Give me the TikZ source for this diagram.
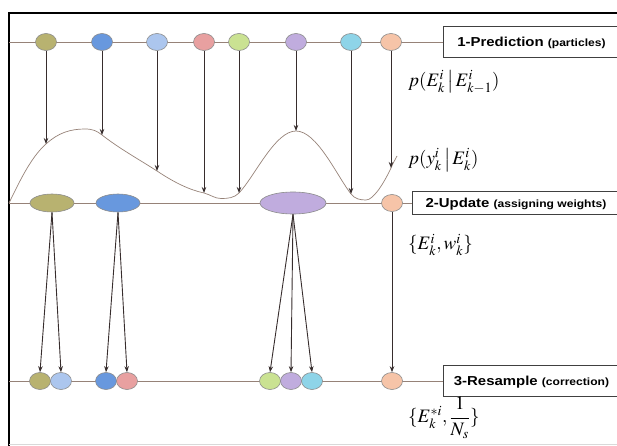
\documentclass[tikz,border=0pt]{standalone}
\usepackage{amsmath}
\usepackage{mathptmx}
\usepackage{fontspec}
\newfontfamily\stagefont[FakeStretch=1.15]{Liberation Sans}
\usetikzlibrary{arrows.meta, positioning, shapes.geometric}
\definecolor{pOlive}{RGB}{184,178,112}
\definecolor{pBlue}{RGB}{104,152,222}
\definecolor{pLightblue}{RGB}{172,198,238}
\definecolor{pPink}{RGB}{232,160,160}
\definecolor{pGreen}{RGB}{202,226,146}
\definecolor{pPurple}{RGB}{192,172,222}
\definecolor{pCyan}{RGB}{142,212,232}
\definecolor{pPeach}{RGB}{246,196,168}
\definecolor{trackcol}{RGB}{150,130,120}
\definecolor{arrowcol}{RGB}{55,45,45}

\begin{document}
\begin{tikzpicture}[x=1pt, y=-1pt,
  particle/.style={ellipse, draw=black!45, line width=0.6pt, inner sep=0pt,
                   minimum width=21pt, minimum height=17pt},
  weighted/.style={particle, minimum width=44pt, minimum height=18pt},
  stagebox/.style={rectangle, draw=black!75, line width=0.9pt, fill=white,
                   anchor=west, text depth=0pt, inner xsep=5pt, align=left},
  track/.style={draw=trackcol, line width=0.7pt},
  arrow/.style={-{Stealth[length=6pt, width=4.5pt]}, line width=0.9pt, draw=arrowcol},
  eq/.style={anchor=west, inner sep=0pt, font=\fontsize{19}{22}\selectfont}
]
\useasboundingbox (0,0) rectangle (617,446);
\clip (0,0) rectangle (617,446);
% frame
\draw[line width=2.4pt] (9,446) -- (9,13) -- (620,13);
\draw[black!15, line width=0.8pt] (9,444) -- (617,444);

% stage boxes
\node[stagebox, minimum width=176pt, minimum height=31pt] (pred) at (443,42)
  {\stagefont\bfseries\fontsize{13}{15}\selectfont 1-Prediction \fontsize{10.5}{12}\selectfont(particles)};
\node[stagebox, minimum width=207pt, minimum height=23pt] (upd) at (412,203)
  {\stagefont\bfseries\fontsize{13}{15}\selectfont 2-Update \fontsize{10.5}{12}\selectfont(assigning weights)};
\node[stagebox, minimum width=176pt, minimum height=31pt] (res) at (443,381)
  {\stagefont\bfseries\fontsize{13}{15}\selectfont 3-Resample \fontsize{10.5}{12}\selectfont(correction)};

% tracks
\coordinate (predL) at (9,42);
\coordinate (updL) at (9,203);
\coordinate (resL) at (9,381);
\draw[track] (predL) -- (pred.west);
\draw[track] (updL) -- (upd.west);
\draw[track] (resL) -- (res.west);

% likelihood curve
\coordinate (c1) at (46,144);
\coordinate (c2) at (102,135);
\coordinate (c3) at (157,171);
\coordinate (c4) at (204,193);
\coordinate (c5) at (239,193);
\coordinate (c6) at (296,131);
\coordinate (c7) at (351,194);
\coordinate (c8) at (391,168);
\draw[track] (updL) .. controls (18,185) and (30,158) .. (c1)
  .. controls (58,133) and (70,129) .. (85,129)
  .. controls (93,129) and (97,131) .. (c2)
  .. controls (120,149) and (140,160) .. (c3)
  .. controls (175,183) and (190,190) .. (c4)
  .. controls (211,195) and (215,198.5) .. (221,198.5)
  .. controls (228,198.5) and (234,198) .. (c5)
  .. controls (255,176) and (275,131) .. (c6)
  .. controls (317,131) and (337,176) .. (c7)
  .. controls (355,199) and (360,200) .. (366,200)
  .. controls (373,200) and (383,185) .. (c8)
  .. controls (393,163) and (395,160) .. (397,156);

% predicted particles
\node[particle, fill=pOlive] (p1) at (46,42) {};
\node[particle, fill=pBlue] (p2) at (102,42) {};
\node[particle, fill=pLightblue] (p3) at (157,42) {};
\node[particle, fill=pPink] (p4) at (204,42) {};
\node[particle, fill=pGreen] (p5) at (239,42) {};
\node[particle, fill=pPurple] (p6) at (296,42) {};
\node[particle, fill=pCyan] (p7) at (351,42) {};
\node[particle, fill=pPeach] (p8) at (391,42) {};

% weighted particles
\node[weighted, fill=pOlive] (w1) at (52,203) {};
\node[weighted, fill=pBlue] (w2) at (118,203) {};
\node[weighted, fill=pPurple, minimum width=66pt, minimum height=22pt] (w3) at (293,203) {};
\node[particle, fill=pPeach] (w4) at (392,203) {};

% resampled particles
\node[particle, fill=pOlive] (r1) at (40,381) {};
\node[particle, fill=pLightblue] (r2) at (61,381) {};
\node[particle, fill=pBlue] (r3) at (106,381) {};
\node[particle, fill=pPink] (r4) at (127,381) {};
\node[particle, fill=pGreen] (r5) at (270,381) {};
\node[particle, fill=pPurple] (r6) at (291,381) {};
\node[particle, fill=pCyan] (r7) at (312,381) {};
\node[particle, fill=pPeach] (r8) at (392,381) {};

% prediction -> likelihood
\draw[arrow] (p1) -- (c1);
\draw[arrow] (p2) -- (c2);
\draw[arrow] (p3) -- (c3);
\draw[arrow] (p4) -- (c4);
\draw[arrow] (p5) -- (c5);
\draw[arrow] (p6) -- (c6);
\draw[arrow] (p7) -- (c7);
\draw[arrow] (p8) -- (c8);

% update -> resample
\draw[arrow] (w1.south) -- (r1.north);
\draw[arrow] (w1.south) -- (r2.north);
\draw[arrow] (w2.south) -- (r3.north);
\draw[arrow] (w2.south) -- (r4.north);
\draw[arrow] (w3.south) -- (r5.north);
\draw[arrow] (w3.south) -- (r6.north);
\draw[arrow] (w3.south) -- (r7.north);
\draw[arrow] (w4) -- (r8);

% equations
\node[eq] (eqpred) at (408,82) {$p(E_k^i\,\big|\,E_{k-1}^i)$};
\node[eq] (eqlik) at (408,160) {$p(y_k^i\,\big|\,E_k^i)$};
\node[eq] (equpd) at (408,245) {$\{E_k^i,w_k^i\}$};
\node[eq] (eqres) at (408,418) {$\{E_k^{*i},\dfrac{1}{N_s}\}$};
\end{tikzpicture}
\end{document}
